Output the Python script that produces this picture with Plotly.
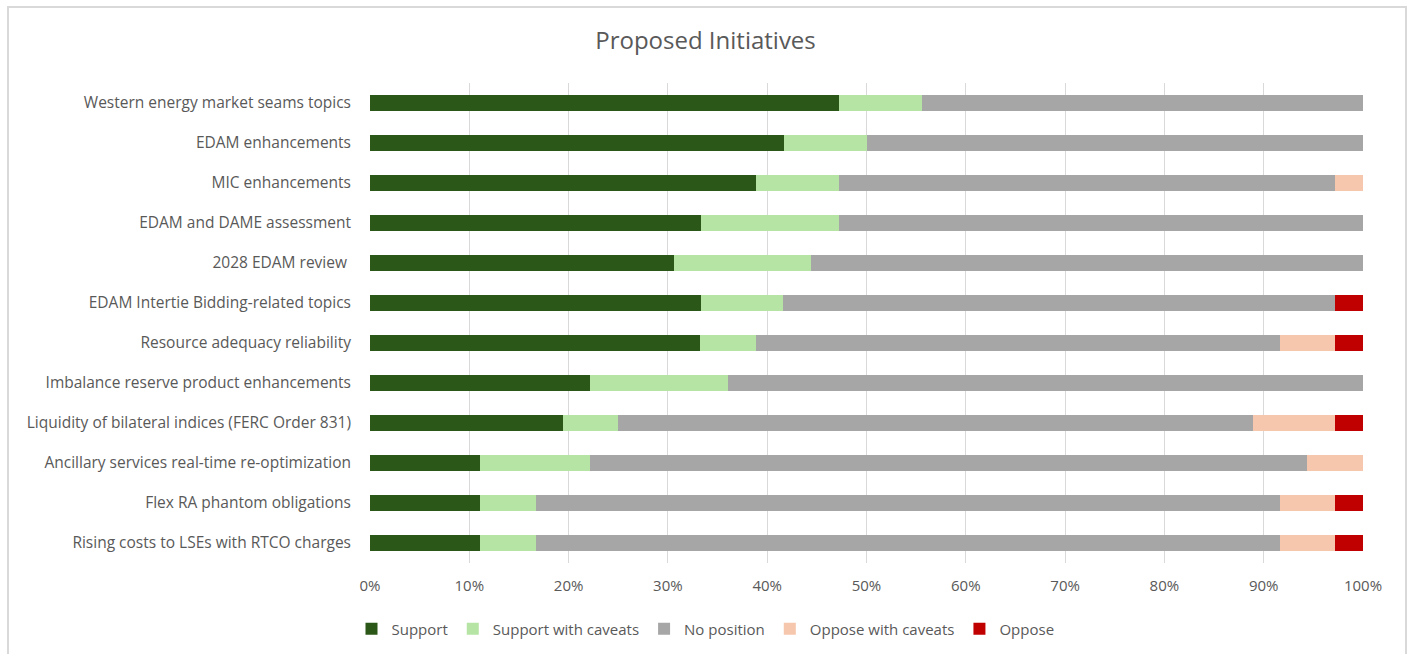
import plotly.graph_objects as go

categories = [
    "Western energy market seams topics",
    "EDAM enhancements",
    "MIC enhancements",
    "EDAM and DAME assessment",
    "2028 EDAM review ",
    "EDAM Intertie Bidding-related topics",
    "Resource adequacy reliability",
    "Imbalance reserve product enhancements",
    "Liquidity of bilateral indices (FERC Order 831)",
    "Ancillary services real-time re-optimization",
    "Flex RA phantom obligations",
    "Rising costs to LSEs with RTCO charges",
]
# percentages of respondents
support = [47.2, 41.7, 38.9, 33.3, 30.6, 33.3, 33.3, 22.2, 19.4, 11.1, 11.1, 11.1]
support_caveats = [8.3, 8.3, 8.3, 13.9, 13.9, 8.3, 5.6, 13.9, 5.6, 11.1, 5.6, 5.6]
no_position = [44.4, 50.0, 50.0, 52.8, 55.6, 55.6, 52.8, 63.9, 63.9, 72.2, 75.0, 75.0]
oppose_caveats = [0, 0, 2.8, 0, 0, 0, 5.6, 0, 8.3, 5.6, 5.6, 5.6]
oppose = [0, 0, 0, 0, 0, 2.8, 2.8, 0, 2.8, 0, 2.8, 2.8]

series = [
    ("Support", support, "#2b5719"),
    ("Support with caveats", support_caveats, "#b5e4a5"),
    ("No position", no_position, "#a6a6a6"),
    ("Oppose with caveats", oppose_caveats, "#f6c6ad"),
    ("Oppose", oppose, "#c00000"),
]

fig = go.Figure()
for name, vals, color in series:
    fig.add_trace(go.Bar(
        y=categories, x=vals, name=name, orientation="h",
        marker=dict(color=color, line=dict(width=0)),
    ))

W, H = 1411, 654
L, R, T, B = 370, 48, 83, 91
pw, ph = W - L - R, H - T - B

def px_x(p):
    return (p - L) / pw

def px_y(p):
    return (H - B - p) / ph

FONT = "Open Sans, Lato, sans-serif"

fig.update_layout(
    width=W, height=H,
    margin=dict(l=L, r=R, t=T, b=B, autoexpand=False),
    barmode="stack", barnorm="percent", bargap=0.6,
    paper_bgcolor="white", plot_bgcolor="white",
    font=dict(family=FONT, size=15.5, color="#595959"),
    title=dict(text="Proposed Initiatives", x=0.5, xref="container",
               y=1 - 41 / H, yanchor="middle", xanchor="center",
               font=dict(family=FONT, size=24, color="#595959")),
    xaxis=dict(range=[0, 100], dtick=10, ticksuffix="%", showgrid=True,
               gridcolor="#d9d9d9", gridwidth=1, zeroline=False,
               showline=False, ticks="", ticklabelstandoff=12, tickangle=0,
               tickfont=dict(size=15, color="#595959")),
    yaxis=dict(autorange="reversed", showgrid=False, ticks="",
               ticklabelstandoff=18, tickfont=dict(size=15.5, color="#595959")),
    legend=dict(orientation="h", x=0.5, xanchor="center", xref="container",
                y=px_y(629), yanchor="middle", traceorder="normal",
                itemwidth=30,
                font=dict(size=15, color="#595959")),
    shapes=[dict(type="rect", xref="paper", yref="paper",
                 x0=px_x(8), x1=px_x(1406), y0=px_y(670), y1=px_y(7),
                 line=dict(color="#d9d9d9", width=2), fillcolor="rgba(0,0,0,0)",
                 layer="below")],
)

fig.write_html("out.html")
